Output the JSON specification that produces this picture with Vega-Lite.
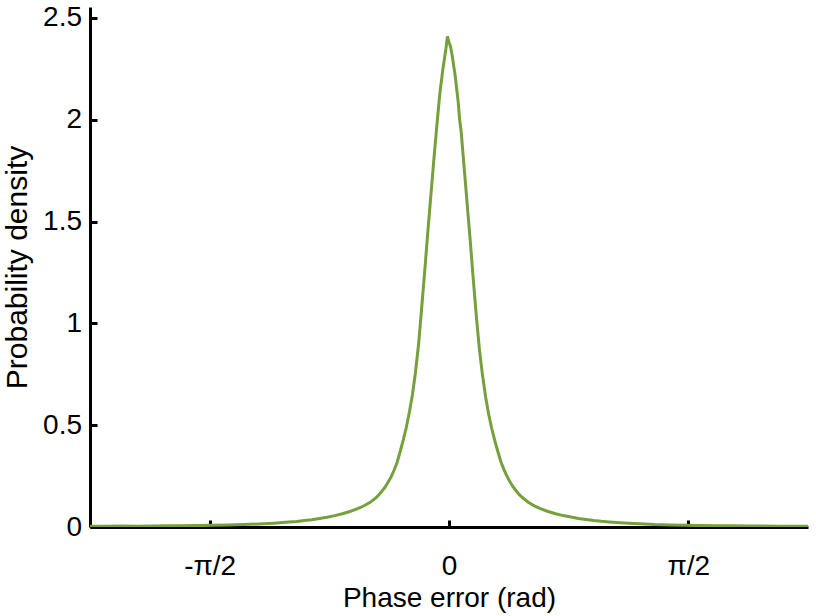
{
  "$schema": "https://vega.github.io/schema/vega-lite/v6.json",
  "width": 718,
  "height": 520,
  "autosize": {"type": "none"},
  "padding": {"left": 90, "top": 7, "right": 8, "bottom": 89},
  "background": "white",
  "config": {"view": {"stroke": null}},
  "data": {"values": [
    {"x": -2.356, "y": 0.004}, {"x": -2.25, "y": 0.004}, {"x": -2.15, "y": 0.005}, {"x": -2.05, "y": 0.004},
    {"x": -1.95, "y": 0.005}, {"x": -1.85, "y": 0.006}, {"x": -1.75, "y": 0.006}, {"x": -1.65, "y": 0.007},
    {"x": -1.55, "y": 0.008}, {"x": -1.45, "y": 0.010}, {"x": -1.35, "y": 0.012}, {"x": -1.25, "y": 0.015},
    {"x": -1.15, "y": 0.019}, {"x": -1.05, "y": 0.024}, {"x": -1.00, "y": 0.027}, {"x": -0.95, "y": 0.032},
    {"x": -0.90, "y": 0.036}, {"x": -0.85, "y": 0.042}, {"x": -0.80, "y": 0.048}, {"x": -0.75, "y": 0.056},
    {"x": -0.70, "y": 0.065}, {"x": -0.65, "y": 0.076}, {"x": -0.60, "y": 0.090}, {"x": -0.56, "y": 0.103},
    {"x": -0.52, "y": 0.120}, {"x": -0.48, "y": 0.143}, {"x": -0.46, "y": 0.158}, {"x": -0.44, "y": 0.176},
    {"x": -0.42, "y": 0.195}, {"x": -0.40, "y": 0.220}, {"x": -0.38, "y": 0.246}, {"x": -0.36, "y": 0.280},
    {"x": -0.34, "y": 0.318}, {"x": -0.32, "y": 0.372}, {"x": -0.30, "y": 0.428}, {"x": -0.28, "y": 0.490},
    {"x": -0.26, "y": 0.565}, {"x": -0.24, "y": 0.650}, {"x": -0.22, "y": 0.760}, {"x": -0.20, "y": 0.895},
    {"x": -0.18, "y": 1.07}, {"x": -0.16, "y": 1.25}, {"x": -0.14, "y": 1.44}, {"x": -0.12, "y": 1.62},
    {"x": -0.10, "y": 1.80}, {"x": -0.08, "y": 1.97}, {"x": -0.06, "y": 2.13}, {"x": -0.04, "y": 2.25},
    {"x": -0.03, "y": 2.30}, {"x": -0.02, "y": 2.35}, {"x": -0.01, "y": 2.41}, {"x": 0.00, "y": 2.38},
    {"x": 0.01, "y": 2.36}, {"x": 0.02, "y": 2.32}, {"x": 0.04, "y": 2.22}, {"x": 0.06, "y": 2.09},
    {"x": 0.07, "y": 2.00}, {"x": 0.08, "y": 1.94}, {"x": 0.10, "y": 1.76}, {"x": 0.12, "y": 1.58},
    {"x": 0.14, "y": 1.40}, {"x": 0.16, "y": 1.21}, {"x": 0.18, "y": 1.03}, {"x": 0.20, "y": 0.87},
    {"x": 0.22, "y": 0.745}, {"x": 0.24, "y": 0.640}, {"x": 0.26, "y": 0.555}, {"x": 0.28, "y": 0.485},
    {"x": 0.30, "y": 0.425}, {"x": 0.32, "y": 0.372}, {"x": 0.34, "y": 0.322}, {"x": 0.36, "y": 0.283},
    {"x": 0.38, "y": 0.250}, {"x": 0.40, "y": 0.222}, {"x": 0.42, "y": 0.198}, {"x": 0.44, "y": 0.178},
    {"x": 0.46, "y": 0.160}, {"x": 0.48, "y": 0.146}, {"x": 0.52, "y": 0.122}, {"x": 0.56, "y": 0.104},
    {"x": 0.60, "y": 0.090}, {"x": 0.65, "y": 0.076}, {"x": 0.70, "y": 0.065}, {"x": 0.75, "y": 0.056},
    {"x": 0.80, "y": 0.049}, {"x": 0.85, "y": 0.042}, {"x": 0.90, "y": 0.037}, {"x": 0.95, "y": 0.032},
    {"x": 1.00, "y": 0.028}, {"x": 1.05, "y": 0.025}, {"x": 1.15, "y": 0.020}, {"x": 1.25, "y": 0.016},
    {"x": 1.35, "y": 0.012}, {"x": 1.45, "y": 0.010}, {"x": 1.55, "y": 0.008}, {"x": 1.65, "y": 0.007},
    {"x": 1.75, "y": 0.006}, {"x": 1.85, "y": 0.006}, {"x": 1.95, "y": 0.005}, {"x": 2.05, "y": 0.005},
    {"x": 2.15, "y": 0.004}, {"x": 2.25, "y": 0.004}, {"x": 2.356, "y": 0.004}
  ]},
  "mark": {"type": "line", "color": "#76a03c", "strokeWidth": 3, "clip": true},
  "encoding": {
    "x": {
      "field": "x", "type": "quantitative",
      "scale": {"domain": [-2.356, 2.356], "nice": false, "zero": false},
      "axis": {
        "title": "Phase error (rad)",
        "values": [-1.5708, 0, 1.5708],
        "labelExpr": "datum.value < -1 ? '-π/2' : (datum.value > 1 ? 'π/2' : '0')",
        "grid": false,
        "domainColor": "black", "domainWidth": 3,
        "tickColor": "black", "tickWidth": 3, "tickSize": -7,
        "labelFont": "Liberation Sans", "labelFontSize": 28, "labelColor": "black",
        "labelPadding": 32, "labelFlush": false,
        "titleFont": "Liberation Sans", "titleFontSize": 28, "titleFontWeight": "normal", "titleColor": "black",
        "titlePadding": 4
      }
    },
    "y": {
      "field": "y", "type": "quantitative",
      "scale": {"domain": [0, 2.554], "nice": false},
      "axis": {
        "title": "Probability density",
        "values": [0, 0.5, 1, 1.5, 2, 2.5],
        "format": "~g",
        "grid": false,
        "domainColor": "black", "domainWidth": 3,
        "tickColor": "black", "tickWidth": 3, "tickSize": -7,
        "labelFont": "Liberation Sans", "labelFontSize": 28, "labelColor": "black",
        "labelPadding": 15.5, "labelFlush": false,
        "titleFont": "Liberation Sans", "titleFontSize": 30, "titleFontWeight": "normal", "titleColor": "black",
        "titlePadding": 10
      }
    }
  }
}
